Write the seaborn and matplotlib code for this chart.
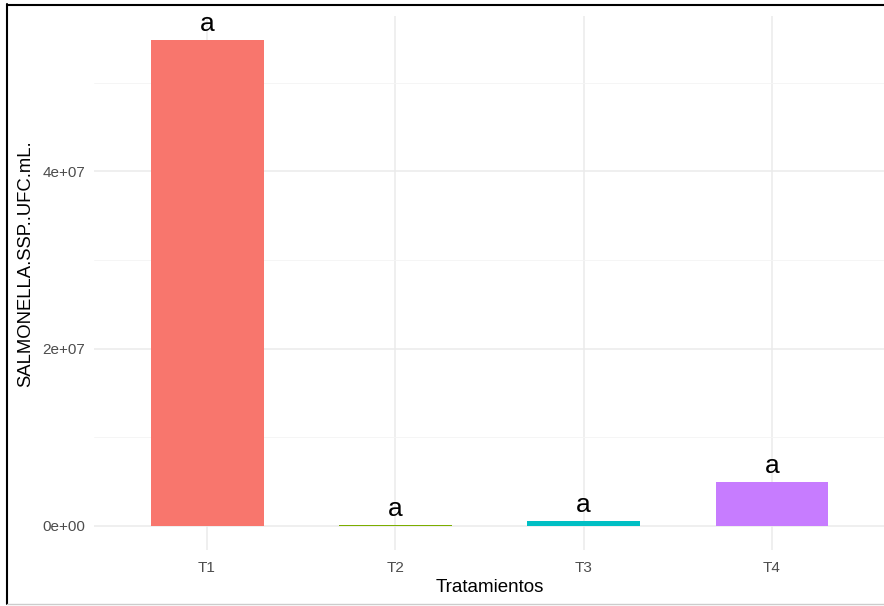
import matplotlib
matplotlib.use("Agg")
import matplotlib.pyplot as plt
from matplotlib.lines import Line2D
import seaborn as sns
import pandas as pd

# Data
tratamientos = ["T1", "T2", "T3", "T4"]
ufc_ml = [5.48e7, 3.0e4, 5.1e5, 4.9e6]
letras = ["a", "a", "a", "a"]
colores = ["#F8766D", "#7CAE00", "#00BFC4", "#C77CFF"]
ytick_vals = [0, 2e7, 4e7]
ytick_labels = ["0e+00", "2e+07", "4e+07"]
yminor_vals = [1e7, 3e7, 5e7]

df = pd.DataFrame({"Tratamientos": tratamientos, "UFC": ufc_ml})

sns.set_theme(style="white")
plt.rcParams["font.family"] = ["Liberation Sans", "DejaVu Sans"]

W, H = 884, 606
fig = plt.figure(figsize=(W / 100, H / 100), dpi=100)
fig.patch.set_facecolor("white")

# panel in pixel terms: left 94, right 885, top 16, bottom 550
ax = fig.add_axes([94 / W, (H - 550) / H, (885 - 94) / W, (550 - 16) / H])
ax.set_facecolor("white")

sns.barplot(data=df, x="Tratamientos", y="UFC", hue="Tratamientos",
            palette=colores, width=0.6, saturation=1, legend=False,
            edgecolor="none", linewidth=0, ax=ax, zorder=3)

ymax = max(ufc_ml)
ax.set_xlim(-0.6, len(tratamientos) - 0.4)
ax.set_ylim(-0.05 * ymax, 1.05 * ymax)

ax.set_yticks(ytick_vals)
ax.set_yticklabels(ytick_labels)
ax.set_yticks(yminor_vals, minor=True)

for s in ax.spines.values():
    s.set_visible(False)

ax.grid(True, which="major", color="#EBEBEB", linewidth=1.1, zorder=0)
ax.grid(True, which="minor", axis="y", color="#F4F4F4", linewidth=0.6, zorder=0)
ax.set_axisbelow(True)

ax.tick_params(axis="both", which="both", length=0, labelsize=11, labelcolor="#4D4D4D")
ax.tick_params(axis="y", pad=6.5)
ax.tick_params(axis="x", pad=8)

for i, (v, t) in enumerate(zip(ufc_ml, letras)):
    ax.annotate(t, xy=(i, v), xytext=(0, 6.5), textcoords="offset points",
                ha="center", va="baseline", fontsize=19, color="black")

ax.set_xlabel("Tratamientos", fontsize=13.5, color="black")
ax.set_ylabel("SALMONELLA.SSP..UFC.mL.", fontsize=13.3, color="black")
ax.xaxis.set_label_coords(489.5 / W, (H - 579) / H, transform=fig.transFigure)
ax.xaxis.label.set_va("top")
ax.yaxis.set_label_coords(26 / W, (H - 264) / H, transform=fig.transFigure)
ax.yaxis.label.set_va("center")

# outer frame
lw = 1.5
fig.add_artist(Line2D([7 / W, 7 / W], [(H - 4) / H, (H - 604) / H],
                      transform=fig.transFigure, color="black", linewidth=lw))
fig.add_artist(Line2D([7 / W, 1.0], [(H - 5) / H, (H - 5) / H],
                      transform=fig.transFigure, color="black", linewidth=lw))
fig.add_artist(Line2D([7 / W, 1.0], [(H - 604) / H, (H - 604) / H],
                      transform=fig.transFigure, color="#CCCCCC", linewidth=1.0))

fig.savefig("out.png", dpi=100, facecolor="white")
